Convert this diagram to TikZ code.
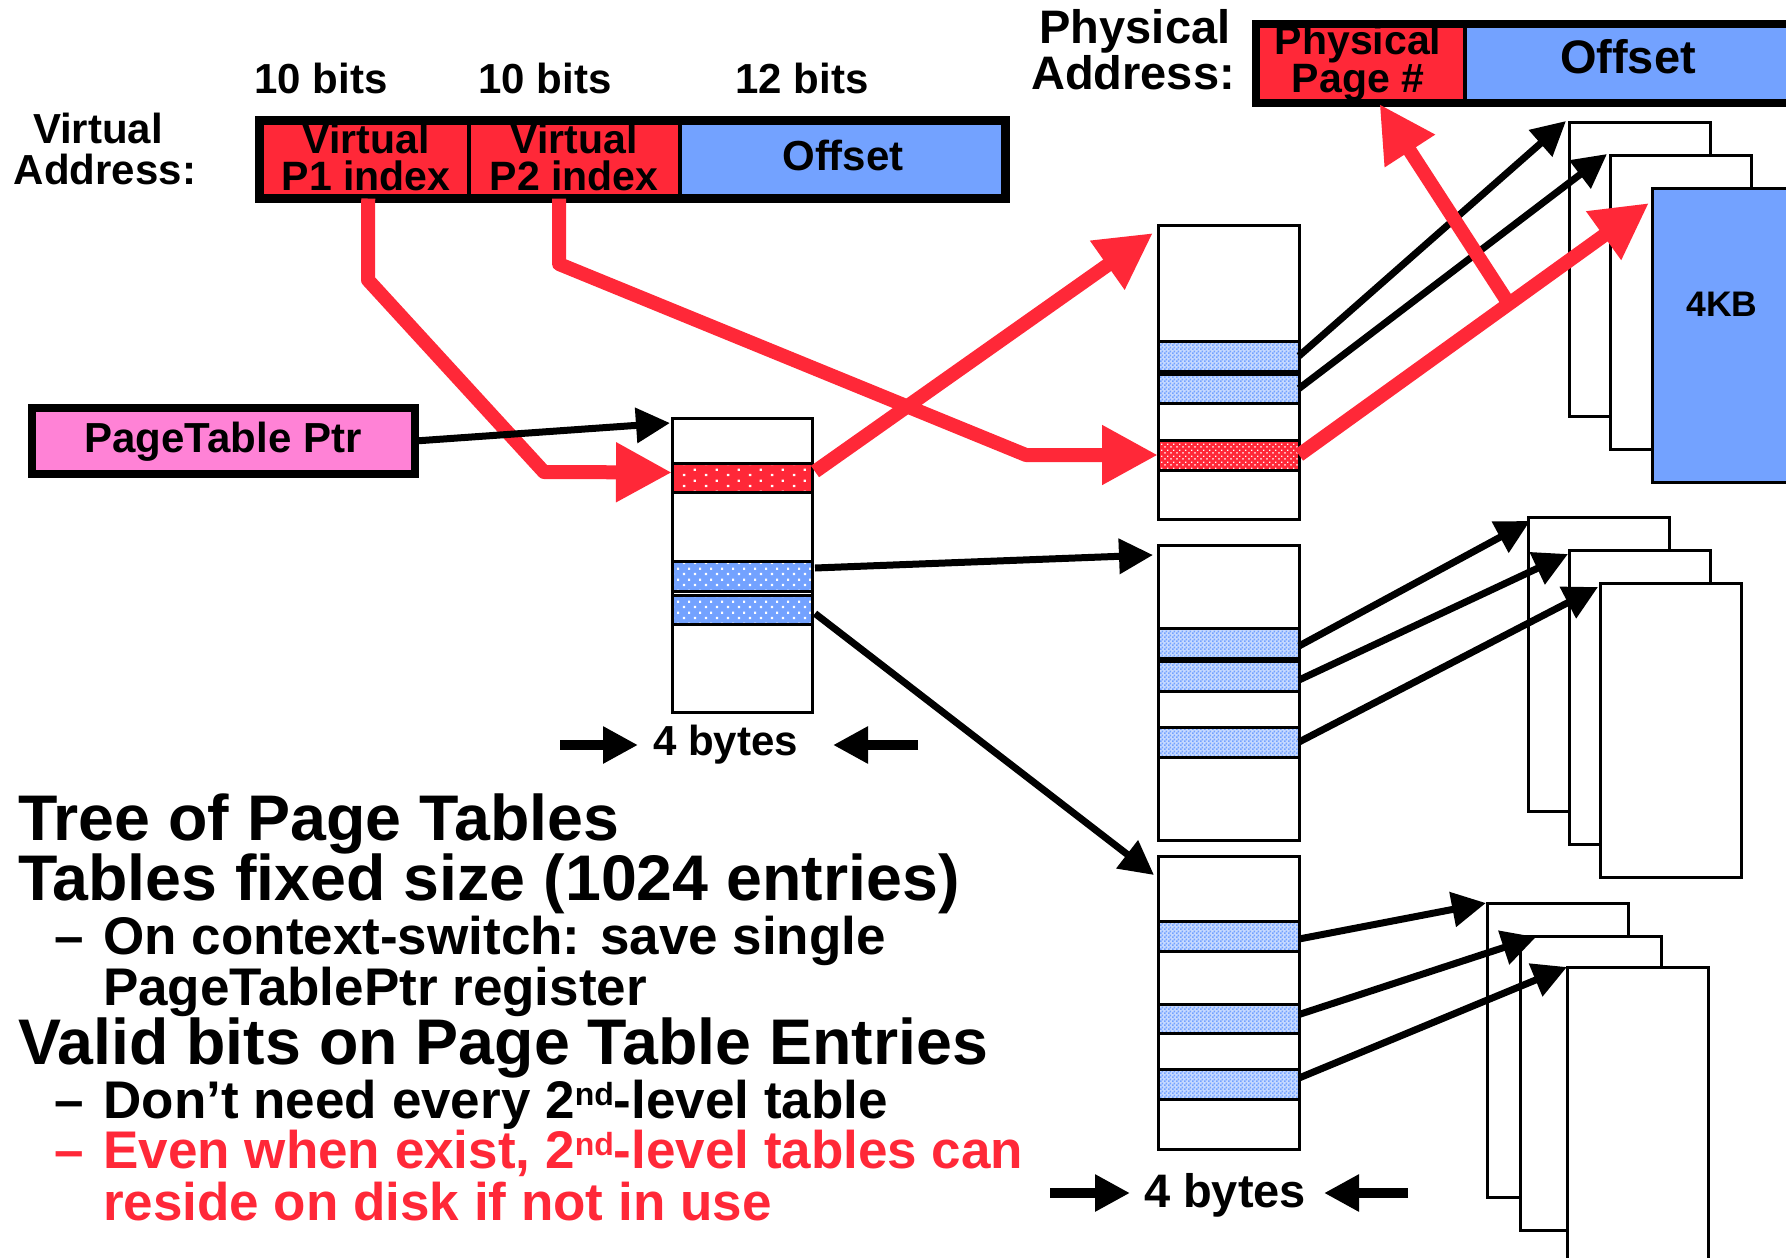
\documentclass[tikz,border=0pt]{standalone}
\usepackage{fontspec}
\setmainfont{Liberation Sans}
\usetikzlibrary{arrows.meta,patterns.meta,calc}

\definecolor{vred}{RGB}{255,40,56}
\definecolor{vblue}{RGB}{115,162,255}
\definecolor{vpink}{RGB}{255,130,214}

\newcommand\fsz[1]{\fontsize{#1pt}{#1pt}\selectfont}

% dotted fills for the valid entries
\tikzdeclarepattern{name=sparsedots, type=uncolored,
  bounding box={(0pt,0pt) and (22pt,11pt)}, tile size={(22pt,11pt)},
  code={\fill (1pt,1pt) rectangle (3.4pt,3.4pt);
        \fill (12pt,6.5pt) rectangle (14.4pt,8.9pt);}}
\tikzdeclarepattern{name=densedots, type=uncolored,
  bounding box={(0pt,0pt) and (11pt,11pt)}, tile size={(11pt,11pt)},
  code={\fill (1pt,1pt) rectangle (3.4pt,3.4pt);
        \fill (6.5pt,6.5pt) rectangle (8.9pt,8.9pt);}}
\tikzdeclarepattern{name=finedots, type=uncolored,
  bounding box={(0pt,0pt) and (6pt,6pt)}, tile size={(6pt,6pt)},
  code={\fill (0.5pt,0.5pt) rectangle (2pt,2pt);
        \fill (3.5pt,3.5pt) rectangle (5pt,5pt);}}
\tikzdeclarepattern{name=finecheck, type=uncolored,
  bounding box={(0pt,0pt) and (4pt,4pt)}, tile size={(4pt,4pt)},
  code={\fill (0pt,0pt) rectangle (2pt,2pt);
        \fill (2pt,2pt) rectangle (4pt,4pt);}}

\begin{document}
\begin{tikzpicture}[x=1pt,y=-1pt,
  txt/.style={inner sep=0pt, outer sep=0pt, anchor=base},
  lbl/.style={txt, font=\bfseries\fsz{42}},
  field/.style={draw, line width=4pt, inner sep=0pt, outer sep=0pt, minimum height=78pt},
  tbl/.style={draw, line width=3pt, fill=white, inner sep=0pt, outer sep=0pt,
    minimum width=141pt, minimum height=294pt, anchor=north west},
  pagebox/.style={tbl},
  ent/.style={draw, line width=3pt, inner sep=0pt, outer sep=0pt,
    minimum width=141pt, minimum height=30pt, anchor=north west},
  redent/.style={ent, preaction={fill=vred}, pattern color=white},
  blueent/.style={ent, preaction={fill=vblue!40!white}, pattern=finecheck, pattern color=vblue},
  blk/.style={line width=7pt, -{Triangle[length=34pt,width=34pt]}},
  redarr/.style={vred, line width=14pt, line join=round, -{Triangle[length=56pt,width=56pt]}},
  dimarr/.style={line width=10pt, -{Triangle[length=35pt,width=35pt]}}
]
\useasboundingbox (0,0) rectangle (1786,1258);
\clip (0,0) rectangle (1786,1258);

% ---------- virtual address ----------
\node[lbl] (va1) at (98,143) {Virtual};
\node[lbl] (va2) at (105,184) {Address:};
\node[lbl] (b1) at (321,93) {10 bits};
\node[lbl] (b2) at (545,93) {10 bits};
\node[lbl] (b3) at (802,93) {12 bits};

\node[field, fill=vred, minimum width=209.5pt] (p1) at (364.25,159.5) {};
\node[field, fill=vred, minimum width=211pt] (p2) at (574.5,159.5) {};
\node[field, fill=vblue, minimum width=325.5pt] (voff) at (842.75,159.5) {};
\draw[line width=9pt] (p1.north west) rectangle (voff.south east);
\node[txt, font=\bfseries\fsz{41}] (p1a) at (366,153) {Virtual};
\node[txt, font=\bfseries\fsz{41}] (p1b) at (366,190) {P1 index};
\node[txt, font=\bfseries\fsz{41}] (p2a) at (574,153) {Virtual};
\node[txt, font=\bfseries\fsz{41}] (p2b) at (574,190) {P2 index};
\node[txt, font=\bfseries\fsz{42}] (vofft) at (843,170) {Offset};

% ---------- physical address ----------
\node[txt, font=\bfseries\fsz{47}] (pa1) at (1135,43) {Physical};
\node[txt, font=\bfseries\fsz{47}] (pa2) at (1133,89) {Address:};
\node[field, fill=vred, minimum width=209pt, minimum height=79pt] (ppn) at (1360.5,63.5) {};
\node[field, fill=vblue, minimum width=340pt, minimum height=79pt] (poff) at (1635,63.5) {};
\draw[line width=8pt] (ppn.north west) rectangle (poff.south east);
\node[txt, font=\bfseries\fsz{41}] (ppna) at (1358,54) {Physical};
\node[txt, font=\bfseries\fsz{41}] (ppnb) at (1358,92) {Page \#};
\node[txt, font=\bfseries\fsz{47}] (pofft) at (1628,73) {Offset};

% ---------- page table pointer ----------
\node[draw, line width=8pt, fill=vpink, inner sep=0pt, outer sep=0pt,
  minimum width=383pt, minimum height=66pt] (ptr) at (223.5,441) {};
\node[lbl] (ptrt) at (223,452) {PageTable Ptr};

% ---------- first-level table ----------
\node[tbl, minimum width=140pt] (t1) at (672,418) {};
\node[redent, minimum width=140pt, minimum height=29pt, pattern=sparsedots] (t1r) at ($(t1.north west)+(0,45)$) {};
\node[ent, minimum width=140pt, preaction={fill=vblue}, pattern=densedots, pattern color=white] (t1b1) at ($(t1.north west)+(0,143)$) {};
\node[ent, minimum width=140pt, minimum height=29pt, preaction={fill=vblue}, pattern=densedots, pattern color=white] (t1b2) at ($(t1.north west)+(0,177)$) {};

\node[txt, font=\bfseries\fsz{42}] (by1) at (725.5,755) {4 bytes};
\coordinate (d1a) at (560,745);
\coordinate (d1b) at (638,745);
\coordinate (d1c) at (918,745);
\coordinate (d1d) at (833,745);
\draw[dimarr] (d1a) -- (d1b);
\draw[dimarr] (d1c) -- (d1d);

% ---------- second-level tables ----------
\node[tbl] (t2) at (1158,225) {};
\node[blueent] (t2b1) at ($(t2.north west)+(0,116)$) {};
\node[blueent, minimum height=29pt] (t2b2) at ($(t2.north west)+(0,149)$) {};
\node[redent, pattern=finedots] (t2r) at ($(t2.north west)+(0,215)$) {};

\node[tbl, minimum height=295pt] (t3) at (1158,545) {};
\node[blueent] (t3b1) at ($(t3.north west)+(0,83)$) {};
\node[blueent] (t3b2) at ($(t3.north west)+(0,116)$) {};
\node[blueent] (t3b3) at ($(t3.north west)+(0,182)$) {};

\node[tbl, minimum height=293pt] (t4) at (1158,856) {};
\node[blueent] (t4b1) at ($(t4.north west)+(0,65)$) {};
\node[blueent, minimum height=29pt] (t4b2) at ($(t4.north west)+(0,148)$) {};
\node[blueent] (t4b3) at ($(t4.north west)+(0,213)$) {};

\node[txt, font=\bfseries\fsz{47}] (by2) at (1225,1207) {4 bytes};
\coordinate (d2a) at (1050,1193);
\coordinate (d2b) at (1130,1193);
\coordinate (d2c) at (1408,1193);
\coordinate (d2d) at (1324,1193);
\draw[dimarr] (d2a) -- (d2b);
\draw[dimarr] (d2c) -- (d2d);

% ---------- data pages ----------
\node[pagebox] (pgA) at (1569,122) {};
\node[pagebox] (pgB) at (1610,155) {};
\node[pagebox, fill=vblue] (pgC) at (1652,188) {};
\node[txt, font=\bfseries\fsz{35.5}] (kb) at (1722,316) {4KB};

\node[pagebox] (pgD) at (1528,517) {};
\node[pagebox] (pgE) at (1569,550) {};
\node[pagebox] (pgF) at (1600,583) {};

\node[pagebox] (pgG) at (1487,903) {};
\node[pagebox] (pgH) at (1520,936) {};
\node[pagebox] (pgI) at (1567,967) {};

% ---------- translation path (red) ----------
\coordinate (r9a) at (368,280);
\coordinate (r9b) at (544,472);
\draw[redarr] ($(p1.south)+(4,0)$) -- (r9a) -- (r9b) -- ($(t1r.west)+(0,-5)$);
\coordinate (r10a) at (559,264);
\coordinate (r10b) at (1026,455);
\draw[redarr] ($(p2.south)+(-15.5,0)$) -- (r10a) -- (r10b) -- (t2r.west);
\draw[redarr] ($(t1r.east)+(3,-6)$) -- ($(t2.north west)+(-5,8)$);

% ---------- black pointers ----------
\draw[blk] (ptr.east) -- ($(t1.north west)+(-2,5)$);
\draw[blk] ($(t1b1.east)+(3,-8)$) -- ($(t3.north west)+(-5,10)$);
\draw[blk] ($(t1b2.east)+(3,4)$) -- ($(t4.north west)+(-4,19)$);

\draw[blk] (t2b1.east) -- ($(pgA.north west)+(-3,-1)$);
\draw[blk] (t2b2.east) -- ($(pgB.north west)+(-3,-1)$);

\draw[blk] ($(t3b1.east)+(0,3)$) -- ($(pgD.north west)+(2,4)$);
\draw[blk] ($(t3b2.east)+(0,4)$) -- ($(pgE.north west)+(-1,4)$);
\draw[blk] (t3b3.east) -- ($(pgF.north west)+(-2,4)$);

\draw[blk] ($(t4b1.east)+(0,3)$) -- ($(pgG.north west)+(-1,0)$);
\draw[blk] ($(t4b2.east)+(0,-4)$) -- ($(pgH.north west)+(16,1)$);
\draw[blk] ($(t4b3.east)+(0,-6)$) -- ($(pgI.north west)+(0,0)$);

% ---------- last hop to the physical page ----------
\draw[redarr] (t2r.east) -- ($(pgC.north west)+(-3,15)$);
\coordinate (r7a) at (1509,304);
\draw[redarr] (r7a) -- ($(ppn.south)+(19,1)$);

% ---------- notes ----------
\node[txt, anchor=base west, font=\bfseries\fsz{64.5}] (n1) at (18,840) {Tree of Page Tables};
\node[txt, anchor=base west, font=\bfseries\fsz{64.5}] (n2) at (18,900) {Tables fixed size (1024 entries)};
\node[txt, anchor=base west, font=\bfseries\fsz{53}] (n3) at (54,954) {–\hspace{20pt}On context-switch: save single};
\node[txt, anchor=base west, font=\bfseries\fsz{53}] (n4) at (103,1005) {PageTablePtr register};
\node[txt, anchor=base west, font=\bfseries\fsz{64.5}] (n5) at (18,1064) {Valid bits on Page Table Entries};
\node[txt, anchor=base west, font=\bfseries\fsz{53}] (n6) at (54,1118) {–\hspace{20pt}Don’t need every 2\raisebox{13pt}{\fsz{32}nd}-level table};
\node[txt, anchor=base west, font=\bfseries\fsz{53}, text=vred] (n7) at (54,1168) {–\hspace{20pt}Even when exist, 2\raisebox{13pt}{\fsz{32}nd}-level tables can};
\node[txt, anchor=base west, font=\bfseries\fsz{53}, text=vred] (n8) at (103,1220) {reside on disk if not in use};
\end{tikzpicture}
\end{document}
